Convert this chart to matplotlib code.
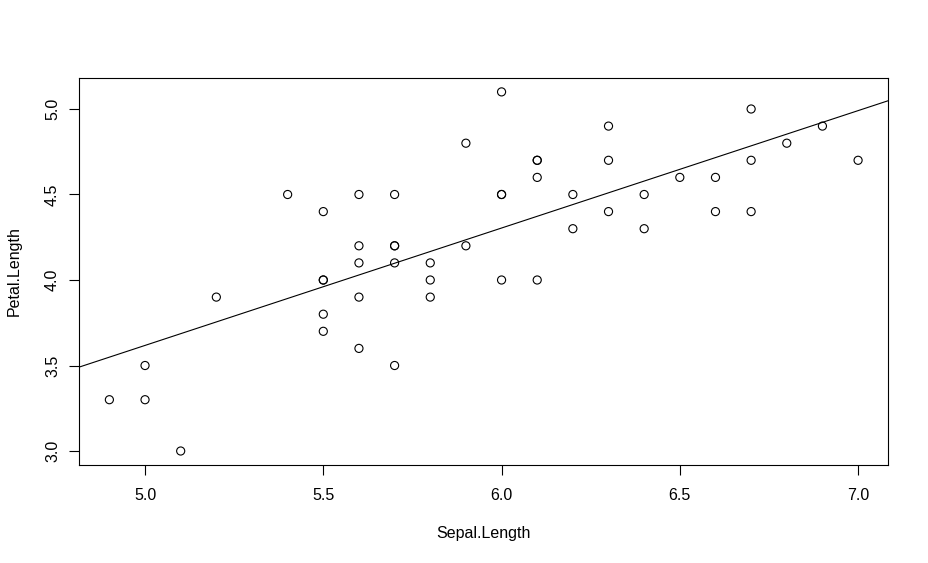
import numpy as np
import matplotlib.pyplot as plt

# iris versicolor: sepal length vs petal length
sepal_length = [7.0, 6.4, 6.9, 5.5, 6.5, 5.7, 6.3, 4.9, 6.6, 5.2,
                5.0, 5.9, 6.0, 6.1, 5.6, 6.7, 5.6, 5.8, 6.2, 5.6,
                5.9, 6.1, 6.3, 6.1, 6.4, 6.6, 6.8, 6.7, 6.0, 5.7,
                5.5, 5.5, 5.8, 6.0, 5.4, 6.0, 6.7, 6.3, 5.6, 5.5,
                5.5, 6.1, 5.8, 5.0, 5.6, 5.7, 5.7, 6.2, 5.1, 5.7]
petal_length = [4.7, 4.5, 4.9, 4.0, 4.6, 4.5, 4.7, 3.3, 4.6, 3.9,
                3.5, 4.2, 4.0, 4.7, 3.6, 4.4, 4.5, 4.1, 4.5, 3.9,
                4.8, 4.0, 4.9, 4.7, 4.3, 4.4, 4.8, 5.0, 4.5, 3.5,
                3.8, 3.7, 3.9, 5.1, 4.5, 4.5, 4.7, 4.4, 4.1, 4.0,
                4.4, 4.6, 4.0, 3.3, 4.2, 4.2, 4.2, 4.3, 3.0, 4.1]
x_ticks = [5.0, 5.5, 6.0, 6.5, 7.0]
y_ticks = [3.0, 3.5, 4.0, 4.5, 5.0]

plt.rcParams['font.family'] = ['Liberation Sans', 'DejaVu Sans']

x = np.array(sepal_length)
y = np.array(petal_length)
slope, intercept = np.polyfit(x, y, 1)

fig = plt.figure(figsize=(9.29, 5.63), dpi=100)
ax = fig.add_axes([0.0855, 0.1734, 0.8704, 0.6889])

ax.scatter(x, y, s=34, facecolors='none', edgecolors='black', linewidths=0.8, zorder=3)

# R-style 4% padding on axis range
xr = x.max() - x.min()
yr = y.max() - y.min()
xlim = (x.min() - 0.04 * xr, x.max() + 0.04 * xr)
ylim = (y.min() - 0.04 * yr, y.max() + 0.04 * yr)
ax.set_xlim(xlim)
ax.set_ylim(ylim)

# abline across the whole panel
xs = np.array(xlim)
ax.plot(xs, intercept + slope * xs, color='black', linewidth=0.8)

ax.set_xticks(x_ticks)
ax.set_xticklabels([f'{v:.1f}' for v in x_ticks])
ax.set_yticks(y_ticks)
ax.set_yticklabels([f'{v:.1f}' for v in y_ticks], rotation=90, va='center')
ax.tick_params(direction='out', length=7, width=0.8, labelsize=11.5, pad=9)
ax.tick_params(axis='y', pad=7)

for sp in ax.spines.values():
    sp.set_linewidth(0.8)

ax.set_xlabel('Sepal.Length', fontsize=11.5, labelpad=17)
ax.set_ylabel('Petal.Length', fontsize=11.5, labelpad=17)

fig.savefig('out.png', dpi=100)
